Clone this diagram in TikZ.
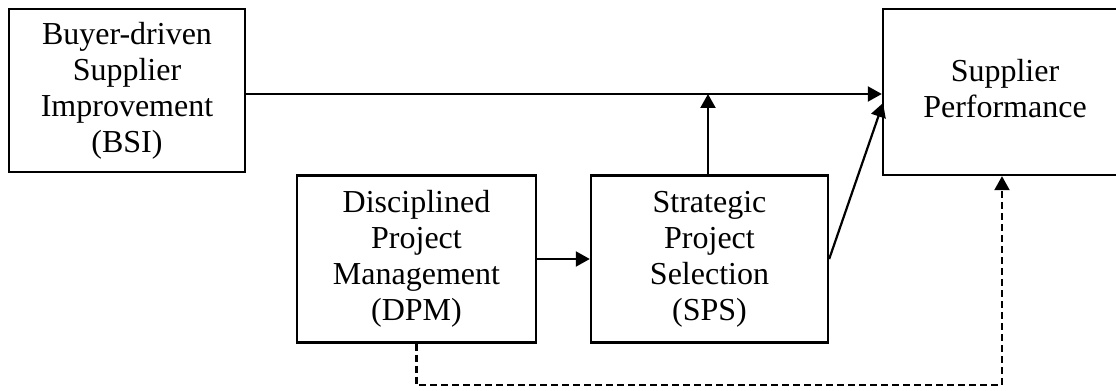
\documentclass[tikz,border=0pt]{standalone}
\usepackage{fontspec}
\setmainfont{Liberation Serif}
\usetikzlibrary{arrows.meta}
\tikzset{
  factor/.style={draw, line width=1.2pt, align=center, inner sep=0pt,
    font=\fontsize{16}{18}\selectfont},
  link/.style={line width=1.1pt, -{Triangle[length=7pt,width=7.5pt]}},
}
\begin{document}
\begin{tikzpicture}[x=0.5pt, y=0.5pt]
        \clip (0,0) rectangle (1116,391);

        \node[factor, minimum width=118pt, minimum height=81.5pt] (bsi) at (127,300.5)
            {Buyer-driven\\Supplier\\Improvement\\(BSI)};
        \node[factor, minimum width=126pt, minimum height=83pt] (sp) at (1009,299)
            {\raisebox{-4pt}{\begin{tabular}{@{}c@{}}Supplier\\Performance\end{tabular}}\hspace{4pt}};
        \node[factor, minimum width=119.5pt, minimum height=83.5pt] (dpm) at (416.5,132)
            {Disciplined\\Project\\Management\\(DPM)};
        \node[factor, minimum width=118.5pt, minimum height=83.5pt] (sps) at (709.5,132)
            {Strategic\\Project\\Selection\\(SPS)};

        \coordinate (join) at (708,297);
        \coordinate (tip) at (883,288);
        \coordinate (dashbot) at (1002,6);

        \draw[link] (bsi.east |- join) -- (sp.west |- join);
        \draw[link] (sps.north -| join) -- (join);
        \draw[link] (dpm.east) -- (sps.west);
        \draw[link] (sps.east) -- (tip);

%        dashed path under the boxes
        \draw[link, dash pattern=on 3.5pt off 2pt] (dpm.south) |- (dashbot) -- (dashbot |- sp.south);
    \end{tikzpicture}
\end{document}
